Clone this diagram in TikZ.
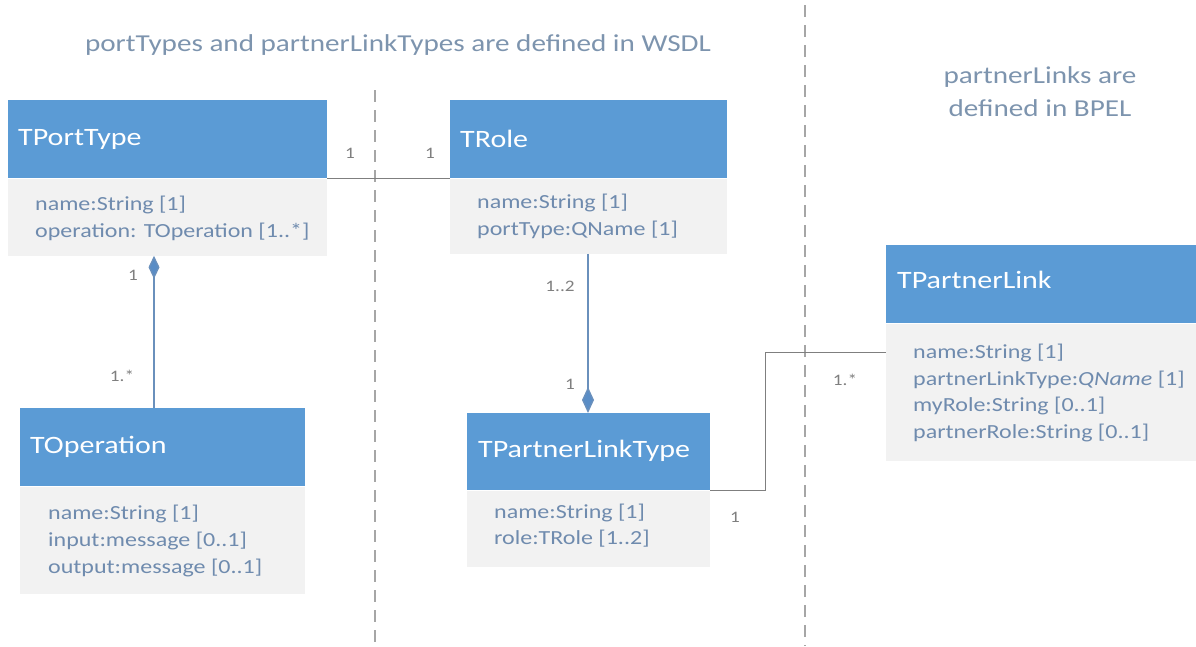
\documentclass[tikz,border=0pt]{standalone}
\usepackage{fontspec}
\setmainfont{Carlito}[FakeStretch=1.2]
\usetikzlibrary{arrows.meta,calc}
\definecolor{hblue}{HTML}{5B9BD5}
\definecolor{bgray}{HTML}{F2F2F2}
\definecolor{btxt}{HTML}{6F8BAE}
\definecolor{ttxt}{HTML}{7D94AE}
\definecolor{lgray}{HTML}{7F7F7F}
\definecolor{lblue}{HTML}{6A90BC}
\definecolor{dblue}{HTML}{5A8DC6}
\definecolor{dgray}{HTML}{A6A6A6}
\tikzset{
  hdr/.style={fill=hblue, draw=none, minimum height=78pt, inner sep=0pt, anchor=north west},
  bdy/.style={fill=bgray, draw=none, inner sep=0pt, anchor=north west},
  htext/.style={text=white, font=\fontsize{25}{30}\selectfont, inner sep=0pt, anchor=west},
  btext/.style={text=btxt, font=\fontsize{20}{26.7}\selectfont, inner sep=0pt, anchor=west, align=left},
  mult/.style={text=lgray, font=\fontsize{16}{19}\selectfont, inner sep=0pt},
  note/.style={text=ttxt, font=\fontsize{24.3}{33}\selectfont, inner sep=0pt, align=center},
  gline/.style={draw=lgray, line width=1.4pt},
  bline/.style={draw=lblue, line width=1.4pt},
  sep/.style={draw=dgray, line width=1.5pt, dash pattern=on 12pt off 8pt}
}
\begin{document}
\begin{tikzpicture}[x=1pt, y=-1pt]
\useasboundingbox (0,0) rectangle (1196,646);

% section separators
\coordinate (s1top) at (375,90);
\coordinate (s1bot) at (375,646);
\coordinate (s2top) at (805,5);
\coordinate (s2bot) at (805,646);
\draw[sep] (s1top) -- (s1bot);
\draw[sep] (s2top) -- (s2bot);

% section captions
\node[note] (wsdl) at (398,45) {portTypes and partnerLinkTypes are defined in WSDL};
\node[note] (bpel) at (1040,92) {partnerLinks are\\defined in BPEL};

% TPortType
\node[hdr, minimum width=319pt] (pth) at (8,100) {};
\node[htext] (ptt) at ([xshift=10pt]pth.west) {TPortType};
\node[bdy, minimum width=319pt, minimum height=77pt] (ptb) at (pth.south west) {};
\node[btext] (pta) at ([xshift=27pt,yshift=-1pt]ptb.west) {name:String [1]\\operation: TOperation [1..*]};

% TRole
\node[hdr, minimum width=277pt] (rlh) at (450,100) {};
\node[htext] (rlt) at ([xshift=10pt]rlh.west) {TRole};
\node[bdy, minimum width=277pt, minimum height=75pt] (rlb) at (rlh.south west) {};
\node[btext] (rla) at ([xshift=27pt]rlb.west) {name:String [1]\\portType:QName [1]};

% TOperation
\node[hdr, minimum width=285pt] (oph) at (20,408) {};
\node[htext] (opt) at ([xshift=10pt]oph.west) {TOperation};
\node[bdy, minimum width=285pt, minimum height=107pt] (opb) at (oph.south west) {};
\node[btext] (opa) at ([xshift=28pt,yshift=-1pt]opb.west) {name:String [1]\\input:message [0..1]\\output:message [0..1]};

% TPartnerLinkType
\node[hdr, minimum width=243pt, minimum height=77pt] (plth) at (467,413) {};
\node[htext] (pltt) at ([xshift=11pt,yshift=1pt]plth.west) {TPartnerLinkType};
\node[bdy, minimum width=243pt, minimum height=76pt] (pltb) at (plth.south west) {};
\node[btext] (plta) at ([xshift=27pt,yshift=3pt]pltb.west) {name:String [1]\\role:TRole [1..2]};

% TPartnerLink
\node[hdr, minimum width=310pt] (plh) at (886,245) {};
\node[htext] (plt) at ([xshift=11pt,yshift=4pt]plh.west) {TPartnerLink};
\node[bdy, minimum width=310pt, minimum height=137pt] (plb) at (plh.south west) {};
\node[btext] (pla) at ([xshift=27pt,yshift=-1pt]plb.west) {name:String [1]\\partnerLinkType:\textit{QName} [1]\\myRole:String [0..1]\\partnerRole:String [0..1]};

% associations
\draw[gline] (pth.south east) -- (rlh.south west);
\node[mult] (m1) at (350,153) {1};
\node[mult] (m2) at (430,153) {1};

\coordinate (ptdn) at ($(ptb.south west)+(146,0)$);
\coordinate (opup) at (ptdn |- oph.north);
\draw[bline, {Diamond[length=23pt,width=11pt,fill=dblue]}-] (ptdn) -- (opup);
\node[mult] (m3) at (133,275) {1};
\node[mult] (m4) at (122,376) {1.*};

\coordinate (rldn) at ($(rlb.south west)+(138,0)$);
\coordinate (pltup) at (rldn |- plth.north);
\draw[bline, -{Diamond[length=26pt,width=12pt,fill=dblue]}] (rldn) -- (pltup);
\node[mult] (m5) at (560,286) {1..2};
\node[mult] (m6) at (570,384) {1};

\coordinate (plin) at ([yshift=-29pt]plb.north west);
\draw[gline] (plth.south east) -- ++(55,0) |- (plin);
\node[mult] (m7) at (735,517) {1};
\node[mult] (m8) at (845,380) {1.*};
\end{tikzpicture}
\end{document}
